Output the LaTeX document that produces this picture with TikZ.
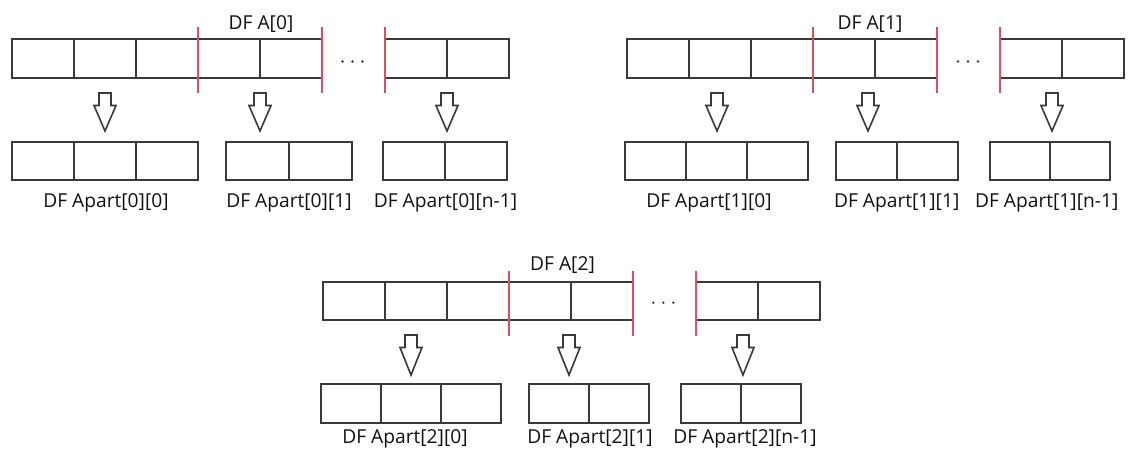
\documentclass[tikz,border=0pt]{standalone}
\usepackage{fontspec}
\setmainfont{Open Sans}
\definecolor{linec}{HTML}{3A3A3A}
\definecolor{redc}{HTML}{D9505E}
\definecolor{textc}{HTML}{111111}
\newcommand{\dfbox}[6]{%
  \foreach \i in {1,...,#4} {%
    \node[cell, minimum width=#5pt, minimum height=#6pt] (#1\i) at ({#2+(\i-1)*#5}, #3) {};
  }%
}
% hollow down arrow: name, x, y(top), total length
\newcommand{\harrow}[4]{%
  \coordinate (#1) at (#2,#3);
  \draw[hollowline] (#1) ++(-6,0) -- ++(12,0) -- ++(0,12.5) -- ++(5,0)
     -- ++(-11,{#4-12.5}) -- ++(-11,{12.5-#4}) -- ++(5,0) -- cycle;
}
\begin{document}
\begin{tikzpicture}[x=1pt,y=-1pt,
  cell/.style={draw=linec, line width=1.8pt, inner sep=0pt, outer sep=0pt, anchor=north west},
  redline/.style={draw=redc, line width=1.8pt},
  hollowline/.style={draw=linec, line width=1.6pt, fill=white, line join=miter},
  lbl/.style={text=textc, inner sep=0pt, anchor=base, font=\fontsize{19.2}{22}\selectfont},
  dotn/.style={circle, fill=linec, inner sep=0pt, minimum size=2.6pt}]
\fill[white] (0,0) rectangle (1135,448);
\useasboundingbox (0,0) rectangle (1135,448);

% ---------------- Group 0 ----------------
\dfbox{g0t}{12}{39}{5}{62}{39}
\dfbox{g0u}{385}{39}{2}{62}{39}
\draw[redline] ([yshift=12pt]g0t4.north west) -- ([yshift=-15pt]g0t4.south west);
\draw[redline] ([yshift=12pt]g0t5.north east) -- ([yshift=-15pt]g0t5.south east);
\draw[redline] ([yshift=12pt]g0u1.north west) -- ([yshift=-15pt]g0u1.south west);
\node[dotn] (g0d1) at (342.5,61.5) {};
\node[dotn] (g0d2) at (352.5,61.5) {};
\node[dotn] (g0d3) at (362.5,61.5) {};
\node[lbl] (g0title) at (261,29.5) {DF A[0]};
\harrow{g0ar1}{105}{93}{38}
\harrow{g0ar2}{260}{93}{38}
\harrow{g0ar3}{447}{93}{38}
\dfbox{g0a}{12}{142}{3}{62}{38}
\dfbox{g0b}{226}{142}{2}{63}{38}
\dfbox{g0c}{383}{142}{2}{62}{38}
\node[lbl] (g0l1) at (106,207) {DF Apart[0][0]};
\node[lbl] (g0l2) at (289,207) {DF Apart[0][1]};
\node[lbl] (g0l3) at (445.5,207) {DF Apart[0][n-1]};

% ---------------- Group 1 ----------------
\dfbox{g1t}{627}{39}{5}{62}{39}
\dfbox{g1u}{1000}{39}{2}{62}{39}
\draw[redline] ([yshift=12pt]g1t4.north west) -- ([yshift=-15pt]g1t4.south west);
\draw[redline] ([yshift=12pt]g1t5.north east) -- ([yshift=-15pt]g1t5.south east);
\draw[redline] ([yshift=12pt]g1u1.north west) -- ([yshift=-15pt]g1u1.south west);
\node[dotn] (g1d1) at (958,61.5) {};
\node[dotn] (g1d2) at (968,61.5) {};
\node[dotn] (g1d3) at (978,61.5) {};
\node[lbl] (g1title) at (870,29.5) {DF A[1]};
\harrow{g1ar1}{717}{93}{38}
\harrow{g1ar2}{868}{93}{38}
\harrow{g1ar3}{1052}{93}{38}
\dfbox{g1a}{625}{142}{3}{61}{38}
\dfbox{g1b}{836}{142}{2}{61}{38}
\dfbox{g1c}{990}{142}{2}{60}{38}
\node[lbl] (g1l1) at (709,207) {DF Apart[1][0]};
\node[lbl] (g1l2) at (896.7,207) {DF Apart[1][1]};
\node[lbl] (g1l3) at (1046.7,207) {DF Apart[1][n-1]};

% ---------------- Group 2 ----------------
\dfbox{g2t}{323}{282}{5}{62}{38}
\dfbox{g2u}{696}{282}{2}{62}{38}
\draw[redline] ([yshift=11pt]g2t4.north west) -- ([yshift=-16pt]g2t4.south west);
\draw[redline] ([yshift=11pt]g2t5.north east) -- ([yshift=-16pt]g2t5.south east);
\draw[redline] ([yshift=11pt]g2u1.north west) -- ([yshift=-16pt]g2u1.south west);
\node[dotn] (g2d1) at (653.3,302.7) {};
\node[dotn] (g2d2) at (663.3,302.7) {};
\node[dotn] (g2d3) at (673.3,302.7) {};
\node[lbl] (g2title) at (562.5,270.5) {DF A[2]};
\harrow{g2ar1}{411}{335}{40}
\harrow{g2ar2}{569}{335}{40}
\harrow{g2ar3}{743}{335}{40}
\dfbox{g2a}{321}{384}{3}{60}{39}
\dfbox{g2b}{529}{384}{2}{60}{39}
\dfbox{g2c}{681}{384}{2}{60}{39}
\node[lbl] (g2l1) at (405,443.5) {DF Apart[2][0]};
\node[lbl] (g2l2) at (590,443.5) {DF Apart[2][1]};
\node[lbl] (g2l3) at (745,443.5) {DF Apart[2][n-1]};
\end{tikzpicture}
\end{document}
